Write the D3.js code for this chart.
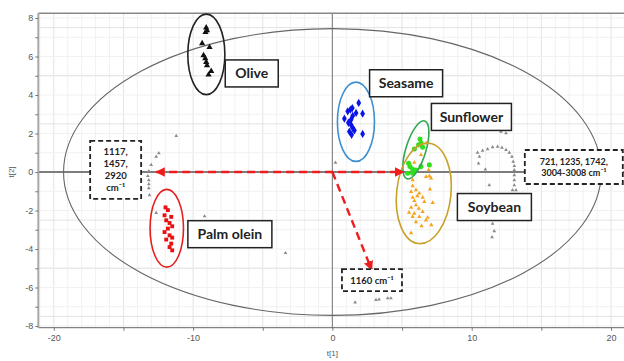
<!DOCTYPE html>
<html><head><meta charset="utf-8">
<script src="https://cdn.jsdelivr.net/npm/d3@7"></script>
<style>body{margin:0;background:#fff;} svg{display:block}</style>
</head><body><svg id="c" width="624" height="361"></svg>
<script>
// ---- data (score plot t[1] vs t[2]) ----
const olive = [[-9.06,7.50],[-9.11,7.26],[-9.0,7.35],[-9.35,6.68],[-8.82,6.48],[-9.25,6.06],[-9.13,5.90],[-9.06,5.71],[-9.0,5.54],[-8.70,5.24],[-8.89,5.05]];
const seasame = [[1.89,3.59],[1.29,3.24],[1.43,3.32],[1.10,3.15],[1.70,3.07],[2.17,3.03],[0.86,2.77],[1.46,2.92],[1.34,2.72],[1.15,2.56],[1.34,2.45],[1.46,2.28],[1.58,2.16],[1.22,2.10],[2.17,1.98],[1.38,1.93]];
const sunflower = [[6.29,1.71],[6.36,1.50],[6.19,1.41],[6.48,1.29],[5.88,1.19],[5.47,0.45],[5.57,0.28],[5.76,0.14],[6.96,0.37],[6.36,0.28],[5.40,-0.07],[5.76,-0.07],[6.0,0.10]];
const soybean = [[6.72,1.50],[6.36,0.89],[5.88,0.49],[6.36,0.37],[6.91,0.10],[6.96,-0.21],[6.72,-0.25],[7.08,-0.33],[5.76,-0.42],[5.76,-0.73],[6.00,-0.94],[5.65,-1.03],[6.24,-1.11],[6.48,-1.32],[5.76,-1.32],[6.60,-1.55],[5.88,-1.50],[6.00,-1.72],[5.65,-1.84],[6.48,-2.07],[5.88,-2.16],[5.76,-2.33],[6.24,-2.33],[6.84,-2.37],[6.72,-2.51],[6.00,-2.60],[5.65,-3.17],[7.2,-1.6],[7.0,-0.9],[6.2,-1.9],[5.5,-2.1],[6.4,-2.8],[7.1,-2.75],[6.1,-1.25]];
const palmOlein = [[-11.98,-1.84],[-11.81,-1.98],[-12.05,-2.25],[-11.57,-2.33],[-11.93,-2.51],[-11.69,-2.65],[-11.50,-2.82],[-11.81,-2.94],[-12.05,-3.12],[-11.69,-3.29],[-11.50,-3.41],[-11.93,-3.51],[-11.57,-3.72],[-11.69,-3.90],[-11.50,-4.07]];
const other = [[-11.21,1.88],[-12.46,0.98],[-12.65,0.80],[-13.01,0.37],[-13.18,0.05],[-13.25,-0.21],[-13.18,-0.42],[-13.18,-0.63],[-13.18,-0.84],[-13.13,-1.20],[-12.65,-2.13],[-9.18,-2.30],[-4.64,-3.81],[-3.37,-4.21],[0.22,0.49],[1.63,-6.77],[3.13,-6.65],[3.35,-6.62],[3.97,-6.56],[4.2,-6.56],
  [12.10,2.10],[12.46,2.02],[12.2,2.30],[10.42,1.01],[10.78,1.11],[11.14,1.19],[11.50,1.29],[11.86,1.32],[12.17,1.27],[12.46,1.15],[12.70,1.01],[12.89,0.80],[12.98,0.54],[13.06,0.31],[13.06,0.10],[13.06,-0.16],[13.06,-0.42],[13.06,-0.68],[12.93,-0.94],[10.55,0.80],[10.49,0.45],[10.98,0.14],[11.26,-0.68],[11.62,-1.90],[11.69,-2.25],[11.50,-2.68],[11.62,-3.07],[11.46,-3.38],[13.18,-0.94]];
// group ellipses: centre, semi-axes (data units), tilt (deg)
const groupNames = ["Olive","Seasame","Sunflower","Soybean","Palm olein"];
const groupEllipses = [[-9.05,6.11,1.33,2.09,0],[1.69,2.61,1.33,2.06,0],[5.99,1.15,0.72,1.57,17],[6.56,-1.11,1.95,2.62,6],[-11.89,-2.92,1.2,2.02,0]];
const hotelling = [0,0,19.3,7.45];
// label boxes: centre in data units
const groupLabelPos = [[-5.79,5.12],[5.29,4.61],[9.98,2.86],[11.63,-1.82],[-7.36,-3.23]];
const loadingTexts = [["1117,","1457,","2920","cm⁻¹"],["721, 1235, 1742,","3004-3008 cm⁻¹"],["1160 cm⁻¹"]];
const loadingPos = [[-15.56,0.11],[17.33,0.26],[2.84,-5.62]];
const arrowTips = [[-12.65,0],[5.1,0],[2.82,-5.08]];
const xTicks = [-20,-15,-10,-5,0,5,10,15,20];
const yTicks = d3.range(-8,9);

// ---- scales ----
const svg = d3.select("#c");
const x = d3.scaleLinear().domain([-20,20]).range([53.8,611]);
const y = d3.scaleLinear().domain([-8,8]).range([326,18]);
const L = 38.3, R = 624, T = 13.3, B = 327.7;

// grid
const g = svg.append("g");
d3.range(-21,22).forEach(v=>{
  g.append("line").attr("x1",x(v)).attr("x2",x(v)).attr("y1",T).attr("y2",B)
   .attr("stroke", v%5===0 ? "#e3e3e3" : "#f1f1f1").attr("stroke-width",1);
});
d3.range(-8,9).forEach(v=>{
  g.append("line").attr("x1",L).attr("x2",R).attr("y1",y(v)).attr("y2",y(v)).attr("stroke","#f1f1f1");
});
[-7.5,-5,-2.5,2.5,5,7.5].forEach(v=>{
  g.append("line").attr("x1",L).attr("x2",R).attr("y1",y(v)).attr("y2",y(v)).attr("stroke","#e3e3e3");
});

// zero lines & frame
svg.append("line").attr("x1",L).attr("x2",R).attr("y1",y(0)).attr("y2",y(0)).attr("stroke","#555").attr("stroke-width",1.3);
svg.append("line").attr("x1",x(0)).attr("x2",x(0)).attr("y1",T).attr("y2",B).attr("stroke","#8a8a8a").attr("stroke-width",1.2);
svg.append("line").attr("x1",L).attr("x2",R).attr("y1",T).attr("y2",T).attr("stroke","#888").attr("stroke-width",1.5);

// Hotelling ellipse
svg.append("ellipse").attr("cx",x(hotelling[0])).attr("cy",y(hotelling[1]))
  .attr("rx",x(hotelling[2])-x(0)).attr("ry",y(0)-y(hotelling[3]))
  .attr("fill","none").attr("stroke","#666").attr("stroke-width",1.1);

// axes
const ax = svg.append("g").attr("transform",`translate(0,${B})`)
  .call(d3.axisBottom(x).tickValues(xTicks).tickSizeInner(3).tickSizeOuter(0).tickPadding(4)
     .tickFormat(d=> d%10===0 ? d : ""));
ax.select(".domain").attr("stroke","#666").attr("d",`M${L},0H${R}`);
const ay = svg.append("g").attr("transform",`translate(${L},0)`)
  .call(d3.axisLeft(y).tickValues(yTicks).tickSizeInner(3).tickSizeOuter(0).tickPadding(2)
     .tickFormat(d=> d%2===0 ? d : ""));
ay.select(".domain").attr("stroke","#aaa").attr("stroke-width",2).attr("d",`M0,${T}V${B}`);
[ax,ay].forEach(a=>{
  a.selectAll(".tick line").attr("stroke","#777");
  a.selectAll("text").attr("fill","#555").attr("font-family","Liberation Sans, Arial, sans-serif").attr("font-size",9);
});
svg.append("text").attr("x",x(0)).attr("y",356).attr("text-anchor","middle")
  .attr("font-family","Liberation Sans, Arial, sans-serif").attr("font-size",8).attr("fill","#555").text("t[1]");
svg.append("text").attr("transform","translate(14,172) rotate(-90)").attr("text-anchor","middle")
  .attr("font-family","Liberation Sans, Arial, sans-serif").attr("font-size",8).attr("fill","#555").text("t[2]");

// points
function drawPts(data, type, size, color){
  svg.append("g").selectAll("path").data(data).join("path")
    .attr("transform",d=>`translate(${x(d[0])},${y(d[1])})`)
    .attr("d",d3.symbol().type(type).size(size)).attr("fill",color);
}
drawPts(other, d3.symbolTriangle, 6, "#8a8a8a");
drawPts(olive, d3.symbolTriangle, 17, "#111");
drawPts(seasame, d3.symbolDiamond, 20, "#0a14e6");
drawPts(soybean, d3.symbolTriangle, 8, "#f7a21b");
drawPts(sunflower, d3.symbolCircle, 20, "#2fe01a");
drawPts(palmOlein, d3.symbolSquare, 15, "#e81010");

// group ellipses
const ellColors = ["#222","#3d8fd1","#2fa84f","#c9a02a","#e51f1f"];
groupEllipses.forEach((e,i)=>{
  const cx=x(e[0]), cy=y(e[1]);
  svg.append("ellipse").attr("cx",cx).attr("cy",cy)
    .attr("rx",x(e[0]+e[2])-cx).attr("ry",cy-y(e[1]+e[3]))
    .attr("transform",`rotate(${e[4]},${cx},${cy})`)
    .attr("fill","none").attr("stroke",ellColors[i]).attr("stroke-width",1.6);
});

// red dashed arrows
const defs = svg.append("defs");
defs.append("marker").attr("id","ah").attr("viewBox","0 0 10 10").attr("refX",9).attr("refY",5)
  .attr("markerWidth",4).attr("markerHeight",4).attr("orient","auto-start-reverse")
  .append("path").attr("d","M0,0L10,5L0,10Z").attr("fill","#ee1c1c");
svg.append("line").attr("x1",x(arrowTips[0][0])).attr("y1",y(0)).attr("x2",x(arrowTips[1][0])).attr("y2",y(0))
  .attr("stroke","#ee1c1c").attr("stroke-width",2.4).attr("stroke-dasharray","8,5")
  .attr("marker-start","url(#ah)").attr("marker-end","url(#ah)");
svg.append("line").attr("x1",x(0)).attr("y1",y(0)).attr("x2",x(arrowTips[2][0])).attr("y2",y(arrowTips[2][1]))
  .attr("stroke","#ee1c1c").attr("stroke-width",2.4).attr("stroke-dasharray","8,5")
  .attr("marker-end","url(#ah)");

// group label boxes
const boxW = [53,73,80,74,84];
groupNames.forEach((n,i)=>{
  const cx=x(groupLabelPos[i][0]), cy=y(groupLabelPos[i][1]);
  svg.append("rect").attr("x",cx-boxW[i]/2).attr("y",cy-13.5).attr("width",boxW[i]).attr("height",27)
    .attr("fill","#fff").attr("stroke","#222").attr("stroke-width",1.5);
  svg.append("text").attr("x",cx).attr("y",cy+5).attr("text-anchor","middle")
    .attr("font-family","Lato, Open Sans, sans-serif").attr("font-weight","bold").attr("font-size",14)
    .attr("fill","#222").text(n);
});

// loading annotation boxes (dashed)
const lbW=[51,98,60], lbH=[58,34,22], lbFs=[9.5,9,9.5];
loadingTexts.forEach((lines,i)=>{
  const cx=x(loadingPos[i][0]), cy=y(loadingPos[i][1]);
  svg.append("rect").attr("x",cx-lbW[i]/2).attr("y",cy-lbH[i]/2).attr("width",lbW[i]).attr("height",lbH[i])
    .attr("fill","#fff").attr("stroke","#222").attr("stroke-width",1.8).attr("stroke-dasharray","5,3");
  const lh = lbFs[i]*1.25;
  lines.forEach((t,j)=>{
    svg.append("text").attr("x",cx).attr("y",cy+(j-(lines.length-1)/2)*lh+lbFs[i]*0.36)
      .attr("text-anchor","middle").attr("font-family","Lato, Open Sans, sans-serif").attr("font-weight","bold")
      .attr("font-size",lbFs[i]).attr("fill","#222").text(t);
  });
});
</script></body></html>
